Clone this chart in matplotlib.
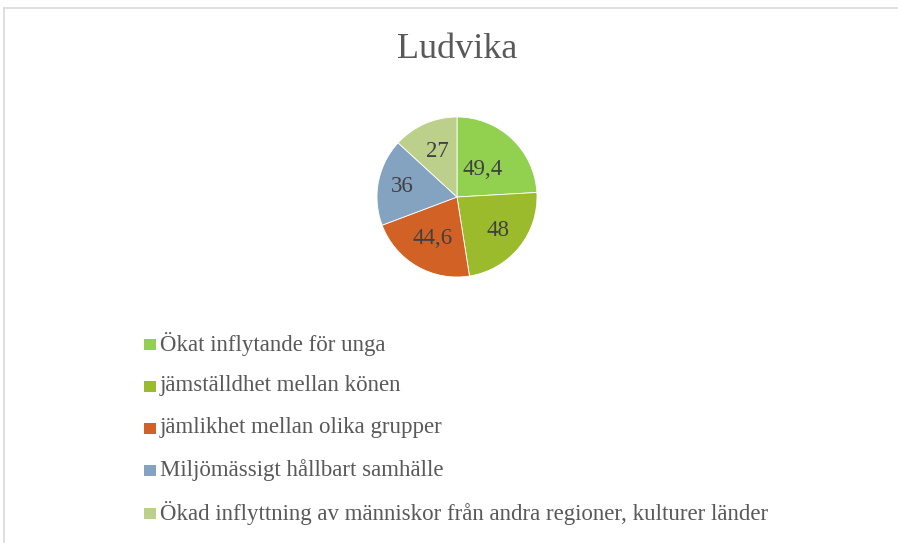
import matplotlib
matplotlib.use('Agg')
import numpy as np
import matplotlib.pyplot as plt
from matplotlib.patches import Rectangle
from matplotlib.lines import Line2D

# Data
title = 'Ludvika'
categories = [
    'Ökat inflytande för unga',
    'jämställdhet mellan könen',
    'jämlikhet mellan olika grupper',
    'Miljömässigt hållbart samhälle',
    'Ökad inflyttning av människor från andra regioner, kulturer länder',
]
values = [49.4, 48, 44.6, 36, 27]
colors = ['#92D050', '#9BBB2D', '#D26126', '#84A3C0', '#BDD08B']

plt.rcParams['font.family'] = ['Liberation Serif', 'DejaVu Serif']
W, H = 898, 543
fig = plt.figure(figsize=(W / 100, H / 100), dpi=100)
fig.patch.set_facecolor('white')

# chart border (top and left visible)
fig.add_artist(Line2D([4 / W, 1], [1 - 8 / H, 1 - 8 / H], color='#D9D9D9', lw=1.2))
fig.add_artist(Line2D([4 / W, 4 / W], [0, 1 - 8 / H], color='#D9D9D9', lw=1.2))

# Title
fig.text(457 / W, 1 - 50 / H, title, ha='center', va='center', fontsize=26, color='#595959')

# Pie
cx, cy, r = 457, 197, 80
ax = fig.add_axes([(cx - r) / W, 1 - (cy + r) / H, 2 * r / W, 2 * r / H])
wedges, _ = ax.pie(values, colors=colors, startangle=90, counterclock=False,
                   wedgeprops=dict(edgecolor='white', linewidth=0.6))
ax.set_aspect('equal')
ax.set_xlim(-1, 1)
ax.set_ylim(-1, 1)

# data labels
label_r = [0.47, 0.66, 0.6, 0.7, 0.62]
for w, v, lr in zip(wedges, values, label_r):
    ang = np.deg2rad((w.theta1 + w.theta2) / 2)
    txt = ('%g' % v).replace('.', ',')
    ax.text(lr * np.cos(ang), lr * np.sin(ang), txt, ha='center', va='center',
            fontsize=16.5, color='#404040')

# Legend
row_y = [344, 386, 428, 470, 513]
for c, lab, y in zip(colors, categories, row_y):
    fig.add_artist(Rectangle((144 / W, 1 - (y + 6) / H), 12 / W, 11 / H,
                             facecolor=c, edgecolor='none', transform=fig.transFigure))
    fig.text(160 / W, 1 - y / H, lab, ha='left', va='center', fontsize=16.5, color='#595959')

fig.savefig('out.png', dpi=100)
